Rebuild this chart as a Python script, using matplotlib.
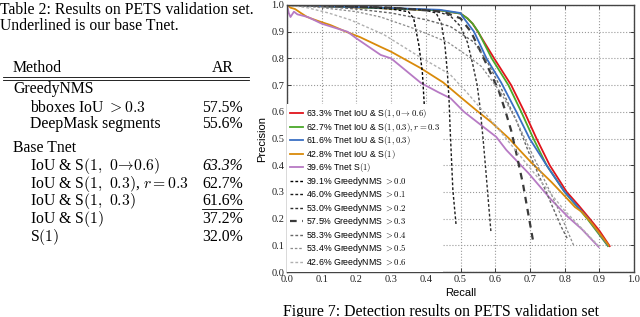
import matplotlib
matplotlib.use('Agg')
import matplotlib.pyplot as plt
from matplotlib.lines import Line2D

plt.rcParams['mathtext.fontset'] = 'cm'

# ---- table data ----
table_caption = ["Table 2: Results on PETS validation set.",
                 "Underlined is our base Tnet."]
greedy_rows = [r"bboxes IoU $>0.3$", "DeepMask segments"]
greedy_ar = ["57.5%", "55.6%"]
tnet_rows = [r"IoU & S$(1,\ 0\!\rightarrow\!0.6)$", r"IoU & S$(1,\ 0.3)$, $r=0.3$",
             r"IoU & S$(1,\ 0.3)$", r"IoU & S$(1)$", r"S$(1)$"]
tnet_ar = ["63.3%", "62.7%", "61.6%", "37.2%", "32.0%"]

# ---- PR curves (recall, precision) ----
red_r = [0, 0.1, 0.27, 0.44, 0.5, 0.52, 0.535, 0.55, 0.597, 0.646, 0.684, 0.719, 0.757, 0.806, 0.84, 0.872, 0.9, 0.93]
red_p = [1.0, 0.995, 0.988, 0.98, 0.968, 0.95, 0.93, 0.9, 0.8, 0.7, 0.6, 0.5, 0.4, 0.3, 0.25, 0.2, 0.155, 0.097]
green_r = [0, 0.1, 0.27, 0.44, 0.5, 0.52, 0.535, 0.551, 0.59, 0.638, 0.675, 0.71, 0.748, 0.80, 0.865, 0.925]
green_p = [1.0, 0.995, 0.988, 0.98, 0.968, 0.95, 0.93, 0.9, 0.8, 0.7, 0.6, 0.5, 0.4, 0.3, 0.2, 0.097]
blue_r = [0, 0.1, 0.27, 0.44, 0.5, 0.507, 0.539, 0.575, 0.617, 0.661, 0.699, 0.748, 0.80, 0.868, 0.925]
blue_p = [1.0, 0.995, 0.99, 0.982, 0.97, 0.955, 0.9, 0.8, 0.71, 0.6, 0.5, 0.4, 0.3, 0.2, 0.1]
orange_r = [0, 0.01, 0.023, 0.04, 0.058, 0.09, 0.125, 0.17, 0.21, 0.27, 0.3, 0.386, 0.45, 0.5, 0.551, 0.588,
            0.64, 0.67, 0.704, 0.762, 0.80, 0.83, 0.85, 0.88, 0.927]
orange_p = [1.0, 0.99, 0.985, 0.97, 0.955, 0.94, 0.925, 0.9, 0.88, 0.843, 0.825, 0.763, 0.71, 0.655, 0.6, 0.562,
            0.5, 0.457, 0.41, 0.337, 0.285, 0.243, 0.225, 0.18, 0.1]
purple_r = [0, 0.005, 0.01, 0.02, 0.03, 0.06, 0.1, 0.174, 0.2, 0.27, 0.3, 0.386, 0.435, 0.472, 0.51, 0.603,
            0.632, 0.696, 0.762, 0.81, 0.85, 0.898]
purple_p = [1.0, 0.97, 0.955, 0.975, 0.965, 0.955, 0.93, 0.9, 0.875, 0.813, 0.8, 0.708, 0.674, 0.65, 0.6, 0.506,
            0.457, 0.37, 0.27, 0.206, 0.16, 0.094]

g00_r = [0, 0.2, 0.3, 0.35, 0.365, 0.38, 0.39, 0.395, 0.4, 0.403]
g00_p = [1.0, 0.995, 0.985, 0.975, 0.95, 0.85, 0.75, 0.64, 0.5, 0.3]
g01_r = [0, 0.3, 0.4, 0.43, 0.445, 0.455, 0.462, 0.467, 0.47, 0.478, 0.487]
g01_p = [1.0, 0.99, 0.98, 0.97, 0.93, 0.85, 0.75, 0.644, 0.54, 0.307, 0.18]
g02_r = [0, 0.3, 0.42, 0.47, 0.5, 0.52, 0.535, 0.548, 0.556, 0.565, 0.573, 0.58, 0.588]
g02_p = [1.0, 0.99, 0.98, 0.96, 0.92, 0.86, 0.78, 0.7, 0.62, 0.5, 0.38, 0.27, 0.146]
g03_r = [0, 0.3, 0.45, 0.5, 0.53, 0.56, 0.585, 0.61, 0.63, 0.646, 0.66, 0.68, 0.695, 0.71]
g03_p = [1.0, 0.99, 0.975, 0.95, 0.9, 0.82, 0.75, 0.68, 0.6, 0.53, 0.45, 0.33, 0.22, 0.11]
g04_r = [0, 0.1, 0.2, 0.3, 0.4, 0.47, 0.54, 0.58, 0.62, 0.66, 0.696, 0.73, 0.76, 0.79, 0.81]
g04_p = [1.0, 0.995, 0.985, 0.97, 0.945, 0.92, 0.86, 0.78, 0.68, 0.57, 0.45, 0.35, 0.26, 0.17, 0.12]
g05_r = [0, 0.1, 0.2, 0.27, 0.37, 0.464, 0.52, 0.56, 0.617, 0.66, 0.7, 0.74, 0.78, 0.826]
g05_p = [1.0, 0.99, 0.975, 0.955, 0.91, 0.86, 0.81, 0.77, 0.67, 0.57, 0.46, 0.35, 0.24, 0.1]
g06_r = [0, 0.058, 0.12, 0.183, 0.278, 0.377, 0.47, 0.52, 0.6, 0.7, 0.8, 0.9]
g06_p = [1.0, 0.99, 0.97, 0.944, 0.89, 0.81, 0.74, 0.67, 0.55, 0.39, 0.23, 0.095]

tnet_labels = [r"63.3% Tnet IoU & S$(1,0\rightarrow0.6)$",
               r"62.7% Tnet IoU & S$(1,0.3), r=0.3$",
               r"61.6% Tnet IoU & S$(1,0.3)$",
               r"42.8% Tnet IoU & S$(1)$",
               r"39.6% Tnet S$(1)$"]
greedy_ap = ["39.1%", "46.0%", "53.0%", "57.5%", "58.3%", "53.4%", "42.6%"]
greedy_thr = ["0.0", "0.1", "0.2", "0.3", "0.4", "0.5", "0.6"]

W, H = 640, 317


def fx(x):
    return x / W


def fy(y):
    return 1 - y / H


fig = plt.figure(figsize=(6.4, 3.17), dpi=100)
serif = ['Liberation Serif', 'DejaVu Serif']
sans = ['Liberation Sans', 'DejaVu Sans']
fs = 11.3

# ---- table on the left (y values are baselines in pixels) ----
def ttext(x, y, s, **kw):
    fig.text(fx(x), fy(y), s, family=serif, fontsize=fs, va='baseline', **kw)


ttext(0, 14, table_caption[0])
ttext(0, 30.5, table_caption[1])
ttext(13, 72, "Method")
ttext(234, 72, "AR", ha='right')
for yy in (76.5, 79.5):
    fig.add_artist(Line2D([fx(3), fx(249)], [fy(yy), fy(yy)], color='k', lw=0.6))
ttext(13, 93, "GreedyNMS")
for i, (lab, v) in enumerate(zip(greedy_rows, greedy_ar)):
    yy = 111.5 + i * 17
    ttext(30, yy, lab)
    ttext(243, yy, v, ha='right')
ttext(13, 152, "Base Tnet")
for i, (lab, v) in enumerate(zip(tnet_rows, tnet_ar)):
    yy = 170 + i * 17.7
    ttext(30, yy, lab)
    ttext(243, yy, v, ha='right', style='italic' if i == 0 else 'normal')
fig.add_artist(Line2D([fx(202), fx(243)], [fy(209), fy(209)], color='k', lw=0.6))

# caption of the figure, cut at the bottom edge
fig.text(fx(283), fy(304), "Figure 7: Detection results on PETS validation set",
         family=serif, fontsize=fs, va='top')

# ---- PR plot ----
ax = fig.add_axes([fx(287), 45 / H, 347 / W, 267 / H])
ax.plot(red_r, red_p, color='#e0141b', lw=1.3, label=tnet_labels[0])
ax.plot(green_r, green_p, color='#4aa82a', lw=1.3, label=tnet_labels[1])
ax.plot(blue_r, blue_p, color='#3a6fc4', lw=1.3, label=tnet_labels[2])
ax.plot(orange_r, orange_p, color='#d98a0a', lw=1.3, label=tnet_labels[3])
ax.plot(purple_r, purple_p, color='#b77ac4', lw=1.3, label=tnet_labels[4])

greedy_r = [g00_r, g01_r, g02_r, g03_r, g04_r, g05_r, g06_r]
greedy_p = [g00_p, g01_p, g02_p, g03_p, g04_p, g05_p, g06_p]
greedy_col = ['#000000', '#1a1a1a', '#2e2e2e', '#3a3a3a', '#666666', '#8c8c8c', '#b0b0b0']
greedy_lw = [1.0, 1.0, 1.0, 1.6, 1.0, 0.9, 1.0]
greedy_dash = [(2, 1.5), (2, 1.5), (2, 1.5), (3, 2.5), (2, 1.5), (2, 1.5), (2, 1.5)]
for k in range(7):
    ax.plot(greedy_r[k], greedy_p[k], color=greedy_col[k], lw=greedy_lw[k], dashes=greedy_dash[k],
            label=greedy_ap[k] + r" GreedyNMS $>" + greedy_thr[k] + "$")

ax.set_xlim(0, 1)
ax.set_ylim(0, 1)
ticks = [i / 10 for i in range(11)]
ax.set_xticks(ticks)
ax.set_yticks(ticks)
ax.set_xticklabels(["%.1f" % t for t in ticks], family=serif, fontsize=7.5)
ax.set_yticklabels(["%.1f" % t for t in ticks], family=serif, fontsize=7.5)
ax.tick_params(direction='in', top=True, right=True, length=3, width=0.6, pad=2, colors='#222')
ax.grid(True, ls=':', color='#999999', lw=0.8)
ax.set_axisbelow(True)
for s in ax.spines.values():
    s.set_color('#444444')
    s.set_linewidth(1.0)

ax.set_xlabel("Recall", family=sans, fontsize=8)
ax.set_ylabel("Precision", family=sans, fontsize=8)
ax.xaxis.set_label_coords(0.5, -0.08)
ax.xaxis.label.set_va('center')
ax.yaxis.set_label_coords(-0.072, 0.5)
ax.yaxis.label.set_va('center')

leg = ax.legend(loc='lower left', bbox_to_anchor=(0, 0), borderaxespad=0, frameon=True,
                fancybox=False, framealpha=1, edgecolor='none', facecolor='white',
                prop={'family': sans, 'size': 6.3}, labelspacing=0.06,
                handlelength=1.5, handletextpad=0.3, borderpad=0.35)

fig.savefig('out.png', dpi=100)
